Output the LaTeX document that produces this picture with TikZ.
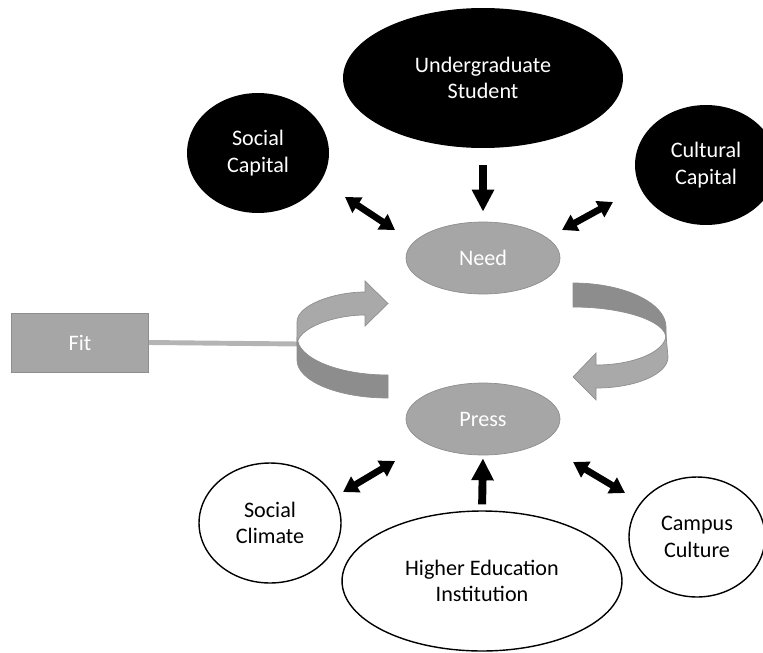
\documentclass[tikz,border=0pt]{standalone}
\usepackage{fontspec}
\setmainfont{Carlito}
\usetikzlibrary{shapes.geometric, arrows.meta, positioning}
\definecolor{boxgray}{HTML}{A6A6A6}
\definecolor{edgegray}{HTML}{8E8E8E}
\definecolor{ribdark}{HTML}{8D8D8D}
\definecolor{riblight}{HTML}{A9A9A9}
\definecolor{fitline}{HTML}{B4B4B4}

\begin{document}
\begin{tikzpicture}[x=0.02cm, y=-0.02cm,
  every node/.style={font=\fontsize{12.6}{15}\selectfont, align=center, inner sep=0pt},
  dark/.style={ellipse, fill=black, text=white},
  open/.style={ellipse, draw=black, fill=white, thick},
  mid/.style={ellipse, fill=boxgray, draw=edgegray, text=white, minimum width=3.08cm, minimum height=1.44cm},
  fitbox/.style={rectangle, fill=boxgray, draw=edgegray, text=white, minimum width=2.74cm, minimum height=1.18cm},
  ribbon/.style={draw=edgegray, line width=0.4pt},
  bigarrow/.style={line width=4.5pt, -{Triangle[width=12pt,length=12.5pt]}},
  dblarrow/.style={line width=3.8pt, {Triangle[width=10pt,length=8.5pt]}-{Triangle[width=10pt,length=8.5pt]}}]
  \useasboundingbox (0,0) rectangle (763,652);

  % top row
  \node[dark, minimum width=5.6cm, minimum height=2.8cm] (ug) at (483,78) {Undergraduate\\Student};
  \node[dark, minimum width=2.84cm, minimum height=2.4cm] (soccap) at (258,153) {Social\\Capital};
  \node[dark, minimum width=2.84cm, minimum height=2.4cm] (culcap) at (706,165) {Cultural\\Capital};

  % centre
  \node[mid] (need) at (483,258) {Need};
  \node[mid] (press) at (483,419) {Press};
  \node[fitbox] (fit) at (80,342.5) {Fit};

  % bottom row
  \node[open, minimum width=5.6cm, minimum height=2.8cm] (hei) at (482,581) {Higher Education\\Institution};
  \node[open, minimum width=2.84cm, minimum height=2.4cm] (socclim) at (270,523) {Social\\Climate};
  \node[open, minimum width=2.72cm, minimum height=2.4cm] (campus) at (697,537) {Campus\\Culture};

  % fit link
  \coordinate (ribL) at (299,344);
  \draw[fitline, line width=2.8pt] (fit.east) -- (ribL);

  % left ribbon arrow
  \fill[ribdark, ribbon] (388,375) .. controls (338,375) and (297,358) .. (297,337) -- (297,360)
    .. controls (297,381) and (338,398) .. (388,398) -- cycle;
  \fill[riblight, ribbon] (297,322) .. controls (297,305) and (334,292) .. (365,292) -- (365,281)
    -- (388,303.5) -- (365,326) -- (365,315) .. controls (334,315) and (297,328) .. (297,345) -- cycle;

  % right ribbon arrow
  \fill[ribdark, ribbon] (573,283) .. controls (624,283) and (666,303) .. (666,327) -- (666,338)
    .. controls (666,321) and (623,307) .. (573,307) -- cycle;
  \fill[riblight, ribbon] (666,335) .. controls (666,351) and (635,365) .. (596,365) -- (596,353)
    -- (573,377) -- (596,400) -- (596,388) .. controls (636,388) and (668,374) .. (668,357) -- cycle;

  % arrows
  \draw[bigarrow, shorten <=0.34cm, shorten >=0.2cm] (ug.south) -- (need.north);
  \draw[bigarrow, shorten <=0.12cm, shorten >=0.06cm] (hei.north) -- (press.south);
  \coordinate (sc1) at (345,197);  \coordinate (sc2) at (395,230);
  \coordinate (cc1) at (613,202);  \coordinate (cc2) at (562,230);
  \coordinate (cl1) at (343,492);  \coordinate (cl2) at (395,461);
  \coordinate (cu1) at (625,493);  \coordinate (cu2) at (573,462);
  \draw[dblarrow] (sc1) -- (sc2);
  \draw[dblarrow] (cc1) -- (cc2);
  \draw[dblarrow] (cl1) -- (cl2);
  \draw[dblarrow] (cu1) -- (cu2);
\end{tikzpicture}
\end{document}
